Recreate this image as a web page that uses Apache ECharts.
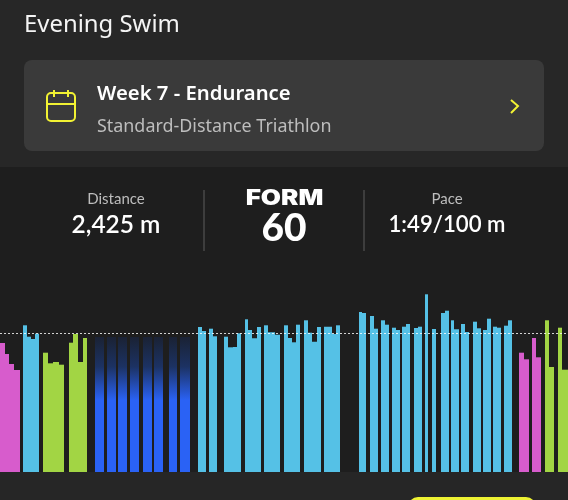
<!DOCTYPE html>
<html><head><meta charset="utf-8">
<style>html,body{margin:0;padding:0;background:#1e1e1e}#c{width:568px;height:500px}</style>
<script src="https://cdn.jsdelivr.net/npm/echarts@6/dist/echarts.min.js"></script>
</head><body><div id="c"></div>
<script>
// Each row: [start, end, value]
const magentaLaps = [[0,4.7,129],[4.7,9,118],[9,14,108],[14,20,102],[519.3,524,119.3],[524,529,112.7],[532,536,134],[536,541.3,114.7]];
const greenLaps = [[43.3,48,119.3],[48,53.3,108.7],[53.3,58.7,110],[58.7,64,107.3],[69,73.3,129.3],[73.3,77.7,138],[77.7,83,110],[83,87,134],[545,548.7,151.7],[548.7,554,105],[558.3,562.3,144.3],[562.3,568,102.3]];
const restLaps = [[95.3,103.7,135],[107,116,135],[118.3,127,135],[130,139,135],[143,151.7,135],[154,163,135],[169,177.3,135],[180,190,135]];
const cyanLaps = [[22.7,26.7,146.7],[26.7,30.7,135.3],[30.7,35,133],[35,39,138.3],
[197.7,202,145],[202,206,141],[208.7,212.7,143.3],[212.7,216.7,135.7],
[223.7,228,135.3],[228,232.7,124.7],[232.7,237,125],[237,241.3,138.7],
[244.7,248.3,152.7],[248.3,252.3,142],[252.3,256.7,133.7],[256.7,260.7,145],
[263.7,268,146.7],[268,275.3,139.7],[275.3,279.7,137.3],
[284,288,146.7],[288,292,134],[292,296,129.7],[296,300.3,147.3],
[304.3,308.3,151.7],[308.3,312.3,139.3],[312.3,316.7,130.3],[316.7,320.7,145],
[323.7,331.7,145.3],[331.7,335.7,138],[335.7,340,146.7],
[358.7,362,160],[362,365.7,159],[370.3,374,156],[374,378,143.3],
[381,385,151.7],[385,389,147.3],[391.7,395.7,144.3],[395.7,400,142],
[402.3,406.3,145.3],[406.3,410.3,148],[414,418,144],[418,422,145.3],
[425,428.3,177.7],[432.3,436.3,143],[441.3,445,159],[445,448.7,161.3],
[450.7,454.3,151.7],[454.3,458.7,142.7],[461,465,148],[465,469,140],
[473,477,150.3],[477,480.7,143.7],[483,487.3,142],[487.3,491.3,153.3],
[493.3,497.3,145.3],[497.3,501.3,144.3],[504.3,508,146.3],[508,512,151.7]];
const referenceValue = 138.5;

const restFill = new echarts.graphic.LinearGradient(0,0,0,1,[
  {offset:0,color:'#1a2234'},{offset:0.22,color:'#1c3263'},{offset:0.47,color:'#2a62f5'},{offset:1,color:'#2a62f5'}]);

function bars(name, data, fill){
  return {name, type:'custom', data, clip:true, encode:{x:[0,1],y:2},
    renderItem(params, api){
      const a = api.coord([api.value(0), api.value(2)]);
      const b = api.coord([api.value(1), 0]);
      const x0 = Math.round(a[0]), x1 = Math.round(b[0]);
      return {type:'rect', shape:{x:x0,y:a[1],width:x1-x0,height:b[1]-a[1]}, style:{fill}};
    }};
}
const W='#ffffff', Y='#f2f233';
const txt=(x,y,text,font,fill,align)=>({type:'text',x,y,z:5,style:{text,font,fill:fill||W,align:align||'left',verticalAlign:'middle'}});
const chart = echarts.init(document.getElementById('c'),null,{renderer:'canvas'});
chart.setOption({
  animation:false, backgroundColor:'#1e1e1e',
  grid:{left:0,right:0,top:290,bottom:28},
  xAxis:{type:'value',min:0,max:568,show:false},
  yAxis:{type:'value',min:0,max:182,show:false},
  tooltip:{show:false},
  series:[
    bars('Magenta',magentaLaps,'#d75ccc'),
    bars('Green',greenLaps,'#a2d544'),
    bars('Rest',restLaps,restFill),
    Object.assign(bars('Cyan',cyanLaps,'#55c1e6'),{
      markLine:{silent:true,symbol:'none',animation:false,z:10,label:{show:false},
        lineStyle:{color:'rgba(255,255,255,0.8)',type:[2,2],width:1.2},
        data:[{yAxis:referenceValue}]}})
  ],
  graphic:[
    {type:'rect',z:-1,shape:{x:0,y:0,width:568,height:167},style:{fill:'#272727'}},
    {type:'rect',z:-1,shape:{x:0,y:472,width:568,height:28},style:{fill:'#262626'}},
    {type:'rect',z:1,shape:{x:24,y:60,width:520,height:91,r:8},style:{fill:'#3a3a3a'}},
    {type:'rect',z:2,shape:{x:408,y:497,width:128,height:20,r:14},style:{fill:'#eef233'}},
    txt(24,25.5,'Evening Swim','400 23.9px "Noto Sans"','#f4f4f4'),
    txt(97,94,'Week 7 - Endurance','600 20.3px "Noto Sans"'),
    txt(97,126.5,'Standard-Distance Triathlon','400 17.9px "Noto Sans"','#bdbdbd'),
    {type:'rect',z:5,shape:{x:47,y:93,width:28,height:28,r:4},style:{fill:'none',stroke:Y,lineWidth:2}},
    {type:'line',z:5,shape:{x1:47,y1:104,x2:75,y2:104},style:{stroke:Y,lineWidth:2}},
    {type:'line',z:5,shape:{x1:54,y1:90,x2:54,y2:97},style:{stroke:Y,lineWidth:2}},
    {type:'line',z:5,shape:{x1:68,y1:90,x2:68,y2:97},style:{stroke:Y,lineWidth:2}},
    {type:'polyline',z:5,shape:{points:[[511,100],[518,106],[511,113]]},style:{fill:'none',stroke:Y,lineWidth:2}},
    txt(116,199,'Distance','400 15px Lato','#bdbdbd','center'),
    txt(116,225,'2,425 m','600 24.5px Lato',W,'center'),
    Object.assign(txt(0,0,'FORM','900 21px Inter',W,'center'),{x:284.5,y:199,scaleX:1.24}),
    Object.assign(txt(0,0,'60','900 37px Lato',W,'center'),{x:284,y:229,scaleX:1.05}),
    txt(447,199,'Pace','400 15px Lato','#bdbdbd','center'),
    txt(447,225,'1:49/100 m','600 22.2px Lato',W,'center'),
    {type:'line',z:5,shape:{x1:204,y1:190,x2:204,y2:251},style:{stroke:'#5c5c5c',lineWidth:1}},
    {type:'line',z:5,shape:{x1:364,y1:190,x2:364,y2:251},style:{stroke:'#5c5c5c',lineWidth:1}}
  ]
});
</script></body></html>
